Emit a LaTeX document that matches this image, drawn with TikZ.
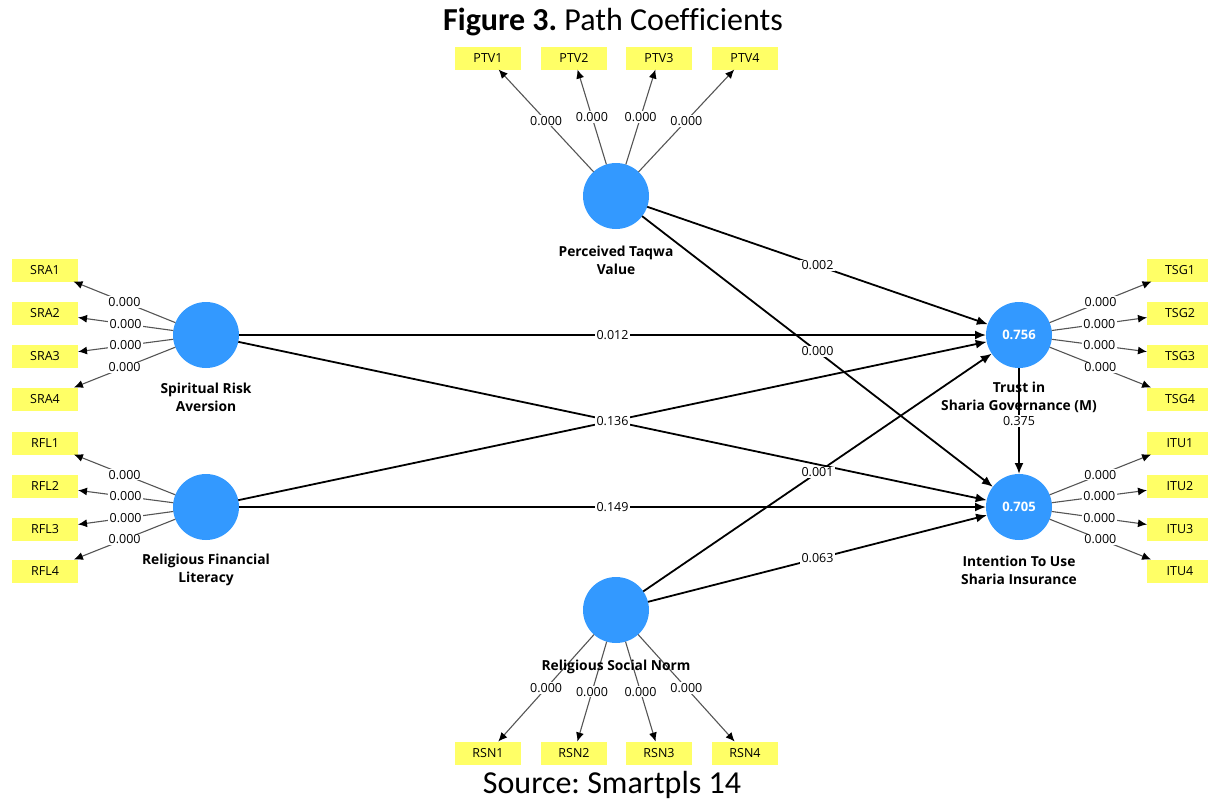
\documentclass[tikz,border=0pt]{standalone}
\usepackage{fontspec}
\setmainfont{Open Sans}
\newfontfamily\titlefont[Ligatures=NoCommon]{Carlito}
\usetikzlibrary{arrows.meta}
\definecolor{lvblue}{RGB}{51,153,255}
\definecolor{indyellow}{RGB}{255,255,102}
\definecolor{loadgray}{RGB}{85,85,85}
\frenchspacing
\begin{document}
\begin{tikzpicture}[x=1pt,y=-1pt,
  lv/.style={circle,fill=lvblue,minimum size=66pt,inner sep=0pt,outer sep=0pt,text=white,font=\bfseries\fontsize{13}{15}\selectfont},
  ind/.style={rectangle,fill=indyellow,minimum width=66pt,minimum height=23pt,inner sep=0pt,outer sep=0pt,font=\fontsize{12.5}{14}\selectfont},
  loading/.style={draw=loadgray,line width=1.1pt,-{Latex[length=9pt,width=8pt,color=black]}},
  structpath/.style={draw=black,line width=1.8pt,-{Latex[length=11pt,width=9pt]}},
  coef/.style={fill=white,inner sep=1.2pt,font=\fontsize{12.5}{14}\selectfont},
  lvlabel/.style={align=center,font=\bfseries\fontsize{13.8}{18}\selectfont},
  bigtext/.style={font=\titlefont\fontsize{32}{36}\selectfont}]
\useasboundingbox (0,0) rectangle (1208,801);
% latent variables
\node[lv] (PTV) at (616,196) {};
\node[lv] (SRA) at (206,335) {};
\node[lv] (RFL) at (206,507) {};
\node[lv] (RSN) at (616,610) {};
\node[lv] (TSG) at (1019,335) {0.756};
\node[lv] (ITU) at (1019,507) {0.705};
% indicators
\foreach \i/\x in {1/488,2/574,3/659,4/745}{
  \node[ind] (PTV\i) at (\x,58) {PTV\i};
  \node[ind] (RSN\i) at (\x,753) {RSN\i};
}
\foreach \i/\y in {1/270,2/313,3/356,4/399}{
  \node[ind] (SRA\i) at (45,\y) {SRA\i};
  \node[ind] (TSG\i) at (1180,\y) {TSG\i};
}
\foreach \i/\y in {1/443,2/486,3/529,4/571}{
  \node[ind] (RFL\i) at (45,\y) {RFL\i};
  \node[ind] (ITU\i) at (1180,\y) {ITU\i};
}
% loading lines
\foreach \lvn in {PTV,SRA,RFL,RSN,TSG,ITU}{
  \foreach \i in {1,...,4}{
    \draw[loading] (\lvn) -- (\lvn\i);
  }
}
% structural paths
\draw[structpath] (RFL) -- (TSG);
\draw[structpath] (PTV) -- (TSG);
\draw[structpath] (PTV) -- (ITU);
\draw[structpath] (SRA) -- (TSG);
\draw[structpath] (SRA) -- (ITU);
\draw[structpath] (RFL) -- (ITU);
\draw[structpath] (RSN) -- (TSG);
\draw[structpath] (RSN) -- (ITU);
\draw[structpath] (TSG) -- (ITU);
% loading labels
\foreach \lvn in {PTV,SRA,RFL,RSN,TSG,ITU}{
  \foreach \i in {1,...,4}{
    \path (\lvn) -- node[coef] {0.000} (\lvn\i);
  }
}
% path labels
\path (PTV) -- node[coef] {0.002} (TSG);
\path (PTV) -- node[coef] {0.000} (ITU);
\path (SRA) -- node[coef] {0.012} (TSG);
\path (SRA) -- node[coef] {0.136} (ITU);
\path (RFL) -- node[coef] {0.149} (ITU);
\path (RSN) -- node[coef] {0.001} (TSG);
\path (RSN) -- node[coef] {0.063} (ITU);
\path (TSG) -- node[coef] {0.375} (ITU);
% construct names
\node[lvlabel] (PTVl) at (616,260) {Perceived Taqwa\\Value};
\node[lvlabel] (SRAl) at (206,397) {Spiritual Risk\\Aversion};
\node[lvlabel] (RFLl) at (206,570) {Religious Financial\\Literacy};
\node[lvlabel] (RSNl) at (616,667) {Religious Social Norm};
\node[lvlabel] (TSGl) at (1019,397) {Trust in\\Sharia Governance (M)};
\node[lvlabel] (ITUl) at (1019,570) {Intention To Use\\Sharia Insurance};
% title and source
\node[bigtext] (title) at (613,22) {\textbf{Figure 3.} Path Coefficients};
\node[bigtext] (source) at (612,785) {Source: Smartpls 14};
\end{tikzpicture}
\end{document}
